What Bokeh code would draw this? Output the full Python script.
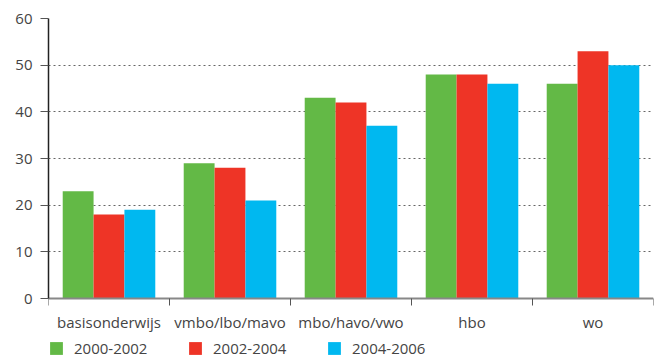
from bokeh.plotting import figure
from bokeh.models import Range1d, FixedTicker, Legend, LegendItem, ColumnDataSource
from bokeh.transform import dodge
from bokeh.embed import file_html
from bokeh.resources import INLINE

categories = ["basisonderwijs", "vmbo/lbo/mavo", "mbo/havo/vwo", "hbo", "wo"]
series = ["2000-2002", "2002-2004", "2004-2006"]
v_2000_2002 = [23, 29, 43, 48, 46]
v_2002_2004 = [18, 28, 42, 48, 53]
v_2004_2006 = [19, 21, 37, 46, 50]
colors = ["#63b946", "#ee3426", "#00b8f0"]
y_ticks = [0, 10, 20, 30, 40, 50, 60]

FONT = "Open Sans"
TEXT = "#444444"

n = len(categories)
centers = [i + 0.5 for i in range(n)]
src = ColumnDataSource(dict(x=centers, a=v_2000_2002, b=v_2002_2004, c=v_2004_2006))

# frame runs to the bottom edge; the space under y=0 holds the axis labels and legend
plot_h, top_pad, zero_px = 358, 18, 298
ymax = y_ticks[-1]
ymin = -ymax * (plot_h - zero_px) / (zero_px - top_pad)

p = figure(width=655, height=plot_h, x_range=Range1d(0, n), y_range=Range1d(ymin, ymax),
           output_backend="svg", toolbar_location=None,
           min_border_left=48, min_border_right=2, min_border_top=top_pad, min_border_bottom=0)
p.outline_line_color = None

w = 0.255
renderers = []
for col, off, c in zip(["a", "b", "c"], [-w, 0, w], colors):
    r = p.vbar(x=dodge("x", off), top=col, width=w, source=src,
               fill_color=c, line_color=None)
    renderers.append(r)

# grid
p.xgrid.grid_line_color = None
p.ygrid.ticker = FixedTicker(ticks=y_ticks[1:])
p.ygrid.grid_line_color = "#666666"
p.ygrid.grid_line_dash = "2 3"
p.ygrid.grid_line_width = 1

# y axis
p.yaxis.ticker = FixedTicker(ticks=y_ticks)
p.yaxis.bounds = (0, ymax)
p.yaxis.axis_line_color = "#222222"
p.yaxis.axis_line_width = 1.5
p.yaxis.major_tick_line_color = "#555555"
p.yaxis.major_tick_out = 8
p.yaxis.major_tick_in = 0
p.yaxis.minor_tick_line_color = None
p.yaxis.major_label_standoff = 8
p.yaxis.major_label_text_font = FONT
p.yaxis.major_label_text_font_size = "15px"
p.yaxis.major_label_text_color = TEXT

# x axis, pinned at y = 0
p.xaxis.fixed_location = 0
p.xaxis.ticker = FixedTicker(ticks=centers, minor_ticks=list(range(n + 1)))
p.xaxis.major_label_overrides = {c: lab for c, lab in zip(centers, categories)}
p.xaxis.axis_line_color = "#888888"
p.xaxis.axis_line_width = 2
p.xaxis.major_tick_line_color = None
p.xaxis.major_tick_out = 0
p.xaxis.major_tick_in = 0
p.xaxis.minor_tick_line_color = "#555555"
p.xaxis.minor_tick_out = 7
p.xaxis.minor_tick_in = 0
p.xaxis.major_label_standoff = 6
p.xaxis.major_label_text_font = FONT
p.xaxis.major_label_text_font_size = "15px"
p.xaxis.major_label_text_color = TEXT

legend = Legend(items=[LegendItem(label=s, renderers=[r]) for s, r in zip(series, renderers)],
                orientation="horizontal", location=(0, 0),
                glyph_width=16, glyph_height=16, label_standoff=10, label_width=113,
                spacing=0, padding=0, margin=0, border_line_color=None,
                background_fill_alpha=0, label_text_font=FONT,
                label_text_font_size="15px", label_text_color=TEXT)
p.add_layout(legend, "center")

open("out.html", "w").write(file_html(p, INLINE))
